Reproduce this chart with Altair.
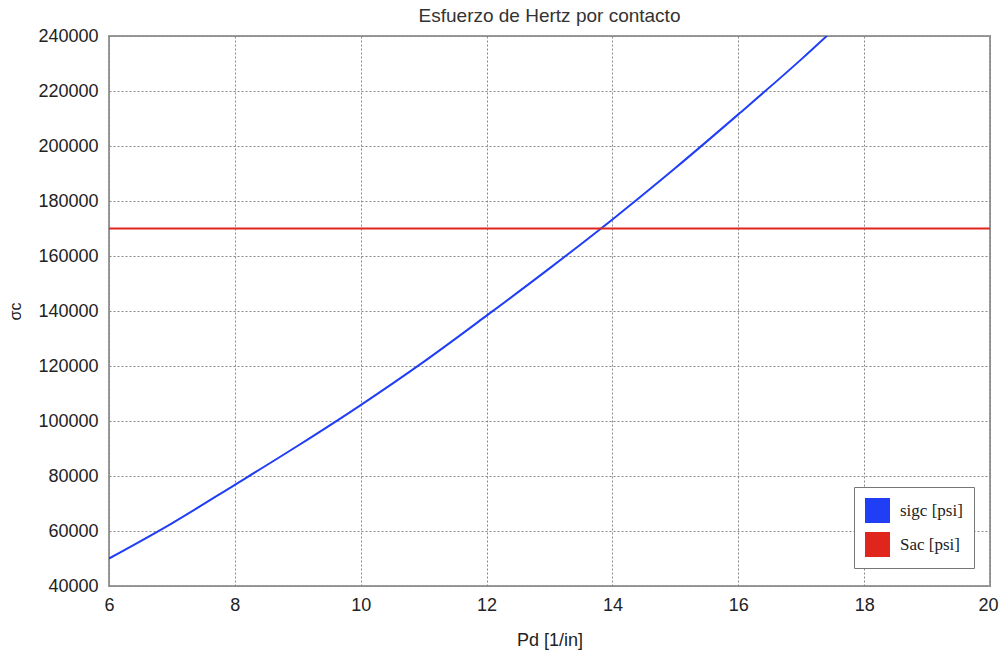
import altair as alt
import pandas as pd

pd_vals = [6, 7, 8, 9, 10, 11, 12, 13, 14, 15, 16, 17, 17.5]
sigc_vals = [50000, 62800, 76800, 91000, 105800, 121500, 138300, 155500, 173300, 192000, 211500, 231500, 242000]
sac_x = [6, 20]
sac_vals = [170000, 170000]
series_names = ["sigc [psi]", "Sac [psi]"]
series_colors = ["#1f3ef5", "#e0261c"]
x_ticks = [6, 8, 10, 12, 14, 16, 18, 20]
y_ticks = [40000, 60000, 80000, 100000, 120000, 140000, 160000, 180000, 200000, 220000, 240000]

df = pd.DataFrame(
    [{"Pd": x, "val": y, "serie": series_names[0]} for x, y in zip(pd_vals, sigc_vals)]
    + [{"Pd": x, "val": y, "serie": series_names[1]} for x, y in zip(sac_x, sac_vals)]
)

color = alt.Color(
    "serie:N",
    scale=alt.Scale(domain=series_names, range=series_colors),
    legend=alt.Legend(
        title=None,
        orient="none",
        legendX=745,
        legendY=451,
        symbolType="square",
        symbolSize=625,
        symbolOpacity=1,
        symbolStrokeWidth=0,
        labelFont="Liberation Serif",
        labelFontSize=17,
        labelColor="#222",
        labelOffset=10,
        fillColor="white",
        strokeColor="#777",
        padding=11,
        rowPadding=9,
        labelLimit=200,
    ),
)

x_enc = alt.X(
    "Pd:Q",
    scale=alt.Scale(domain=[6, 20], nice=False),
    axis=alt.Axis(
        title="Pd [1/in]",
        values=x_ticks,
        format="d",
        labelFlush=False,
        labelOffset=alt.ExprRef(expr="datum.value == 20 ? -2 : 0"),
        titlePadding=17,
    ),
)
y_enc = alt.Y(
    "val:Q",
    scale=alt.Scale(domain=[40000, 240000], nice=False),
    axis=alt.Axis(
        title="σc",
        values=y_ticks,
        format="d",
        labelFlush=False,
        titlePadding=14,
        titleFontSize=16,
        labelPadding=11,
    ),
)

base = alt.Chart(df).encode(x=x_enc, y=y_enc, color=color)
lines = base.mark_line(strokeWidth=2, clip=True, interpolate="monotone")
pts = base.mark_point(shape="square", filled=True, opacity=1, clip=True).transform_filter("false")

chart = (
    alt.layer(lines, pts)
    .properties(
        width=881,
        height=550,
        title=alt.TitleParams(
            "Esfuerzo de Hertz por contacto",
            font="Liberation Sans",
            fontSize=19,
            fontWeight="normal",
            color="#333",
            offset=1,
        ),
        autosize=alt.AutoSizeParams(type="none"),
        padding={"left": 109, "top": 36, "right": 9, "bottom": 70},
    )
    .configure_axis(
        labelFont="Liberation Sans",
        labelFontSize=18,
        labelColor="#222",
        titleFont="Liberation Sans",
        titleFontSize=18,
        titleFontWeight="normal",
        titleColor="#222",
        grid=True,
        gridColor="#888",
        gridDash=[2, 2],
        gridWidth=1,
        domain=False,
        ticks=False,
        labelPadding=10,
    )
    .configure_view(stroke="#9a9a9a", strokeWidth=2)
)

chart.save("out.html", embed_options={"renderer": "svg", "actions": False})
